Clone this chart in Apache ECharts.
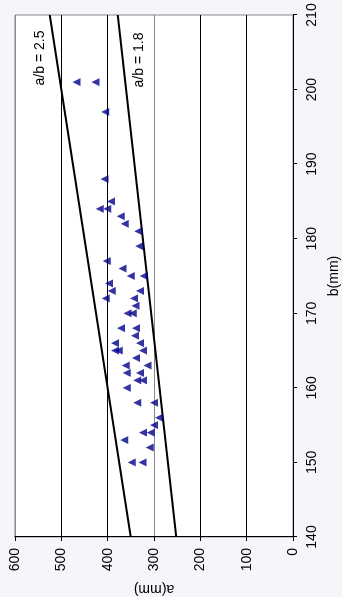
<!DOCTYPE html>
<html>
<head>
<meta charset="utf-8">
<script src="https://cdn.jsdelivr.net/npm/echarts@6/dist/echarts.min.js"></script>
<style>
html,body{margin:0;padding:0;width:342px;height:597px;overflow:hidden;background:#f4f6f9;}
#chart{position:absolute;left:0;top:0;width:597px;height:342px;transform-origin:0 0;transform:translate(0px,597px) rotate(-90deg);}
</style>
</head>
<body>
<div id="chart"></div>
<script>
// Measured points: b (mm) and a (mm)
var bValues = [201,201,197,188,185,184,184,183,182,181,179,177,176,175,175,174,173,173,172,172,171,170,170,168,168,167,166,166,165,165,165,164,163,163,162,162,161,161,160,158,158,156,155,154,154,153,152,150,150];
var aValues = [467,426,405,407,393,417,401,372,363,334,332,402,368,350,322,397,391,330,404,343,340,357,346,371,339,341,384,330,384,376,324,339,361,314,359,330,336,324,359,336,300,289,300,324,307,364,309,348,325];
// Reference ratio lines a/b = 2.5 and a/b = 1.8 (endpoints b, a)
var line25 = [[140,350],[210,525]];
var line18 = [[140,252],[210,378]];
var lineLabels = ['a/b = 2.5','a/b = 1.8'];
var bTicks = {min:140,max:210,interval:10};
var aTicks = {min:0,max:600,interval:100};

var pts = bValues.map(function(b,i){return [b,aValues[i]];});
var font = 'Liberation Sans, Arial, sans-serif';
var chart = echarts.init(document.getElementById('chart'), null, {renderer:'canvas'});
chart.setOption({
  animation:false,
  backgroundColor:'transparent',
  grid:{left:60,right:15,top:15,bottom:49,containLabel:false,outerBoundsMode:'none',show:true,backgroundColor:'#fff',borderColor:'#888',borderWidth:1},
  xAxis:{type:'value',min:bTicks.min,max:bTicks.max,interval:bTicks.interval,
    name:'b(mm)',nameLocation:'middle',nameGap:34,
    nameTextStyle:{fontFamily:font,fontSize:14,color:'#000'},
    axisLine:{lineStyle:{color:'#000',width:1}},
    axisTick:{show:true,length:4,lineStyle:{color:'#000'}},
    axisLabel:{fontFamily:font,fontSize:14,color:'#000',margin:12},
    splitLine:{show:false}},
  yAxis:{type:'value',min:aTicks.min,max:aTicks.max,interval:aTicks.interval,
    name:'a(mm)',nameLocation:'middle',nameGap:41,nameRotate:90,
    nameTextStyle:{fontFamily:font,fontSize:14,color:'#000'},
    axisLine:{show:true,lineStyle:{color:'#000',width:1}},
    axisTick:{show:true,length:4,lineStyle:{color:'#000'}},
    axisLabel:{fontFamily:font,fontSize:14,color:'#000',margin:11},
    splitLine:{show:true,lineStyle:{color:['#000','#000','#000','#888','#000','#000','#888'],width:1}}},
  graphic:[
    {type:'text',x:539,y:40,style:{text:lineLabels[0],font:'14px '+font,fill:'#000',textAlign:'center',textVerticalAlign:'middle'}},
    {type:'text',x:537,y:139,style:{text:lineLabels[1],font:'14px '+font,fill:'#000',textAlign:'center',textVerticalAlign:'middle'}}
  ],
  series:[
    {type:'line',data:line25,symbol:'none',lineStyle:{color:'#000',width:2},z:3},
    {type:'line',data:line18,symbol:'none',lineStyle:{color:'#000',width:2},z:3},
    {type:'scatter',data:pts,symbol:'triangle',symbolSize:8,itemStyle:{color:'#00008b'},z:4}
  ]
});
</script>
</body>
</html>
